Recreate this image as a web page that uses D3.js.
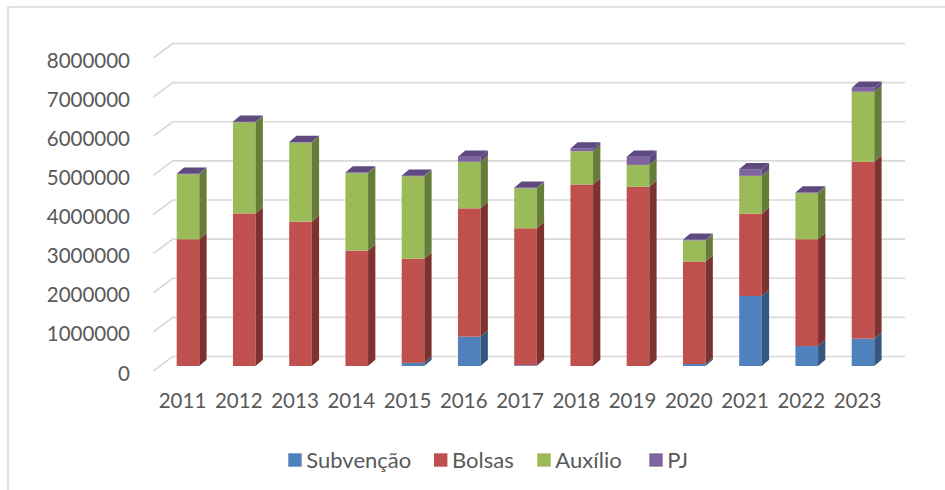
<!DOCTYPE html>
<html><head><meta charset="utf-8">
<script src="https://cdn.jsdelivr.net/npm/d3@7"></script>
<style>
html,body{margin:0;padding:0;background:#fff;}
svg text{font-family:Lato,"Noto Sans",sans-serif;fill:#595959;}
</style></head>
<body>
<svg id="chart" width="945" height="490"></svg>
<script>
const years = ["2011","2012","2013","2014","2015","2016","2017","2018","2019","2020","2021","2022","2023"];
const seriesNames = ["Subvenção","Bolsas","Auxílio","PJ"];
const subvencao = [0, 0, 0, 0, 80000, 750000, 20000, 0, 0, 50000, 1790000, 510000, 700000];
const bolsas    = [3240000, 3900000, 3690000, 2950000, 2660000, 3280000, 3500000, 4640000, 4580000, 2620000, 2100000, 2730000, 4520000];
const auxilio   = [1660000, 2330000, 2020000, 1980000, 2110000, 1190000, 1020000, 850000, 560000, 540000, 970000, 1180000, 1790000];
const pj        = [15000, 15000, 15000, 15000, 15000, 130000, 15000, 70000, 210000, 15000, 170000, 15000, 100000];
const yTicks = [0,1000000,2000000,3000000,4000000,5000000,6000000,7000000,8000000];

const frontColors = ["#4F81BD","#C0504D","#9BBB59","#8064A2"];
const sideColors  = ["#34567F","#7E3230","#667C39","#5E4A7E"];
const topColor = "#5E4A7E";

const svg = d3.select("#chart");

// border
svg.append("path").attr("d","M8,490V7H945").attr("fill","none").attr("stroke","#D9D9D9").attr("stroke-width",1.5);

// back wall scale
const yW = d3.scaleLinear().domain([0,8000000]).range([356.5,43.5]);
const barOff = 9.5;   // bar front face relative to back wall
const frontOff = 14.5; // front floor edge relative to back wall
const wallX0 = 172.7, wallX1 = 905, diagDx = 19.4;

// gridlines
const g = svg.append("g");
yTicks.forEach(v=>{
  const yb = yW(v);
  g.append("path")
   .attr("d",`M${wallX0-diagDx},${yb+frontOff}L${wallX0},${yb}H${wallX1}`)
   .attr("fill","none").attr("stroke","#D9D9D9").attr("stroke-width",1.6);
});

// y labels
svg.append("g").selectAll("text").data(yTicks).join("text")
  .attr("x",130).attr("y",v=>yW(v)+frontOff+1.5)
  .attr("text-anchor","end").attr("dominant-baseline","central")
  .attr("font-size",20.5).text(v=>String(v));

// x scale
const x = d3.scalePoint().domain(years).range([188,863]);
const bw = 22.6, dx = 7.3, dy = -6.2;

const table = years.map((yr,i)=>({year:yr, vals:[subvencao[i],bolsas[i],auxilio[i],pj[i]]}));
const stack = d3.stack().keys([0,1,2,3]).value((d,k)=>d.vals[k]);
const stacked = stack(table);
const yB = v => yW(v)+barOff;

const bars = svg.append("g");
table.forEach((d,i)=>{
  const x0 = x(d.year)-bw/2, x1 = x0+bw;
  stacked.forEach((layer,k)=>{
    const s = layer[i];
    if (s[1]-s[0] <= 0) return;
    const yt = yB(s[1]), yb = yB(s[0]);
    bars.append("rect").attr("x",x0).attr("y",yt).attr("width",bw).attr("height",yb-yt)
      .attr("fill",frontColors[k]);
    bars.append("path").attr("d",`M${x1},${yt}L${x1+dx},${yt+dy}L${x1+dx},${yb+dy}L${x1},${yb}Z`)
      .attr("fill",sideColors[k]);
  });
  const top = stacked[3][i][1];
  const yt = yB(top);
  bars.append("path").attr("d",`M${x0},${yt}L${x0+dx},${yt+dy}L${x1+dx},${yt+dy}L${x1},${yt}Z`)
    .attr("fill",topColor);
});

// x labels
svg.append("g").selectAll("text").data(years).join("text")
  .attr("x",d=>x(d)-5.5).attr("y",408)
  .attr("text-anchor","middle").attr("font-size",20.5).text(d=>d);

// legend
const legX = [288.3,434,537.3,649.3];
const leg = svg.append("g");
seriesNames.forEach((n,k)=>{
  leg.append("rect").attr("x",legX[k]).attr("y",453.3).attr("width",13.4).attr("height",13.4).attr("fill",frontColors[k]);
  leg.append("text").attr("x",legX[k]+18).attr("y",467.5).attr("font-size",22).text(n);
});
</script>
</body></html>
